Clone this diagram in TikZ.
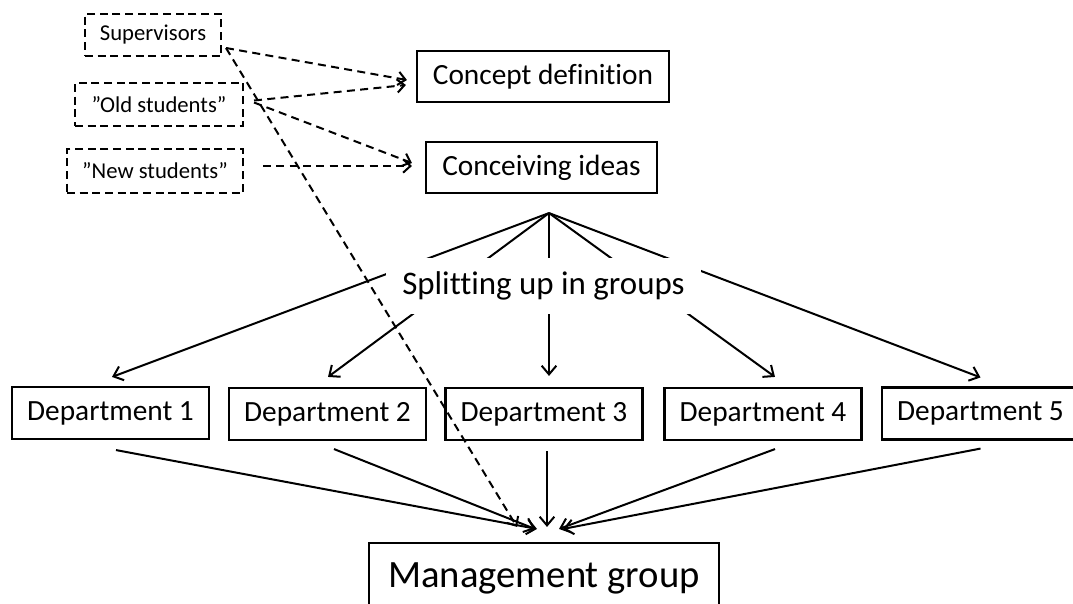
\documentclass[tikz,border=0pt]{standalone}
\usepackage{fontspec}
\setmainfont{Carlito}[Ligatures=NoCommon]
\usetikzlibrary{arrows.meta,calc}
\tikzset{
  box/.style={draw, line width=1.6pt, inner sep=0pt, align=center},
  dbox/.style={draw, line width=1.5pt, dash pattern=on 6pt off 3.5pt, inner sep=0pt},
  dept/.style={box, minimum width=147.75pt, minimum height=39pt, fs=22pt},
  darrow/.style={line width=1.5pt, dash pattern=on 6pt off 4pt, -{Straight Barb[length=5.5pt,width=10pt]}},
  sarrow/.style={line width=1.5pt, -{Straight Barb[length=6.5pt,width=11pt]}},
  fs/.style={font=\fontsize{#1}{#1}\selectfont}
}
\begin{document}
\begin{tikzpicture}[x=0.75pt,y=-0.75pt]
\useasboundingbox (0,0) rectangle (1073,603);
% input groups
\node[dbox, minimum width=102pt, minimum height=31.5pt, fs=17pt] (sup) at (153,35) {Supervisors};
\node[dbox, minimum width=126pt, minimum height=32.25pt, fs=17pt] (old) at (159,104.5) {”Old students”};
\node[dbox, minimum width=132pt, minimum height=33pt, fs=17pt] (new) at (155,171) {”New students”};
% main steps
\node[box, minimum width=189pt, minimum height=38.25pt, fs=22pt] (concept) at (543,76.5) {Concept definition};
\node[box, minimum width=173.25pt, minimum height=38.25pt, fs=22pt] (conc) at (541.5,167.5) {Conceiving ideas};
% departments
\node[dept] (d1) at (110.5,413) {Department 1};
\node[dept] (d2) at (327.5,414) {Department 2};
\node[dept] (d3) at (544,414) {Department 3};
\node[dept] (d4) at (763,414) {Department 4};
\node[dept] (d5) at (980.5,413.5) {Department 5};
% management
\node[box, minimum width=262.5pt, minimum height=52.5pt, fs=29pt] (mg) at (544,578) {Management group};
% fan from conceiving ideas
\coordinate (apex) at ($(conc.south)+(7.5,19)$);
\foreach \n/\dx/\dy in {d1/1.5/-9, d2/0.5/-10, d3/5/-11, d4/12/-10, d5/0/-9}
  \draw[sarrow] (apex) -- ($(\n.north)+(\dx,\dy)$);
\node[fill=white, inner sep=0pt, minimum width=236pt, minimum height=42pt, fs=24.7pt] (split) at (543.5,286) {Splitting up in groups};
% departments to management
\draw[sarrow] ($(d1.south)+(5.5,10)$) -- ($(mg.north)+(-7,-13)$);
\draw[sarrow] ($(d2.south)+(6.5,8)$) -- ($(mg.north)+(-9,-13)$);
\draw[sarrow] ($(d3.south)+(3,10)$) -- ($(mg.north)+(3,-15)$);
\draw[sarrow] ($(d4.south)+(12,8)$) -- ($(mg.north)+(15,-13)$);
\draw[sarrow] ($(d5.south)+(0,8)$) -- ($(mg.north)+(19,-13)$);
% dashed inputs
\draw[darrow] ($(sup.south east)+(4,-9)$) -- ($(concept.west)+(-9,3.5)$);
\draw[darrow] ($(old.east)+(10,-4)$) -- ($(concept.west)+(-10,8.5)$);
\draw[darrow] ($(old.east)+(10,-2)$) -- ($(conc.west)+(-13,-4.5)$);
\draw[darrow] ($(new.east)+(19,-5)$) -- ($(conc.west)+(-13,-1.5)$);
\draw[darrow] ($(sup.south east)+(4,-9)$) -- ($(mg.north)+(-27,-15)$);
\end{tikzpicture}
\end{document}
